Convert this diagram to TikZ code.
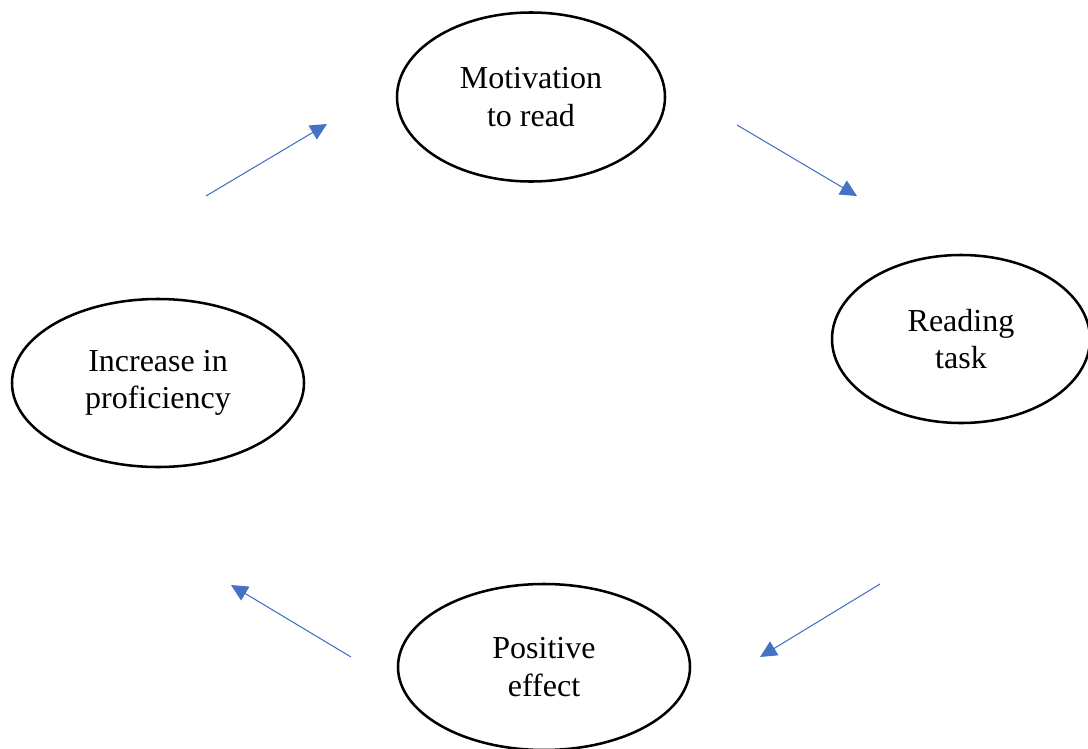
\documentclass[tikz,border=0pt]{standalone}
\usepackage{fontspec}
\setmainfont{Liberation Serif}
\usetikzlibrary{shapes.geometric,arrows.meta}
\definecolor{arrowblue}{HTML}{4472C4}
\begin{document}
\begin{tikzpicture}[x=0.75pt,y=-0.75pt,
  bubble/.style={ellipse,draw=black,line width=1.9pt,inner sep=0pt,align=center,
    font=\fontsize{24}{28}\selectfont},
  flow/.style={draw=arrowblue,line width=0.8pt,-{Triangle[length=12.5pt,width=12pt]},arrowblue}]
\useasboundingbox (0,0) rectangle (1088,749);
\node[bubble,minimum width=268*0.75pt,minimum height=169*0.75pt] (mot) at (531,97) {Motivation\\to read};
\node[bubble,minimum width=258*0.75pt,minimum height=168*0.75pt] (read) at (961,339) {Reading\\task};
\node[bubble,minimum width=292*0.75pt,minimum height=168*0.75pt] (inc) at (158,383) {Increase in\\proficiency};
\node[bubble,minimum width=292*0.75pt,minimum height=166*0.75pt] (pos) at (544,667) {Positive\\effect};
\coordinate (a1s) at (206,196); \coordinate (a1e) at (327,124);
\coordinate (a2s) at (737,125); \coordinate (a2e) at (857,196);
\coordinate (a3s) at (880,584); \coordinate (a3e) at (760,657);
\coordinate (a4s) at (351,657); \coordinate (a4e) at (231,585);
\draw[flow] (a1s) -- (a1e);
\draw[flow] (a2s) -- (a2e);
\draw[flow] (a3s) -- (a3e);
\draw[flow] (a4s) -- (a4e);
\end{tikzpicture}
\end{document}
